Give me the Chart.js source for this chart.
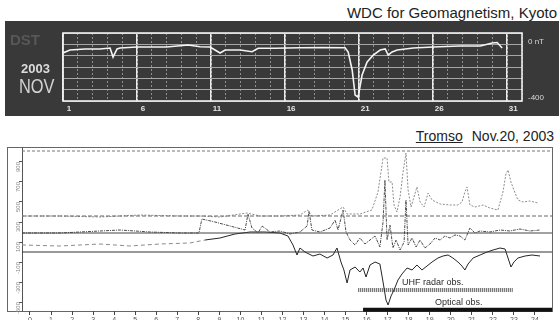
<!DOCTYPE html>
<html>
<head>
<meta charset="utf-8">
<script src="https://cdn.jsdelivr.net/npm/chart.js@4/dist/chart.umd.min.js"></script>
<style>
  body { margin: 0; width: 559px; height: 320px; overflow: hidden; position: relative; background: #fff;
         font-family: Arial, "Liberation Sans", sans-serif; }
  .abs { position: absolute; }
  #kyotoTitle { right: 2px; top: 4px; font-size: 15px; color: #222; white-space: nowrap; }
  #dstPanel { left: 5px; top: 21px; width: 554px; height: 95px; background: #393939; }
  #dstTag { left: 10px; top: 31px; font-size: 15px; font-weight: bold; color: #575757; }
  #yearTag { left: 21px; top: 61px; font-size: 13px; font-weight: bold; color: #dcdcdc; }
  #monthTag { left: 19px; top: 74px; font-size: 21px; color: #d2d2d2; transform: scaleX(0.78); transform-origin: left top; }
  #stationTitle { right: 5px; top: 128px; font-size: 14px; color: #222; white-space: nowrap; }
  #stationTitle u { margin-right: 9px; }
  #magFrame { left: 7px; top: 147px; width: 546px; height: 165px; border: 1px solid #666; box-sizing: border-box; }
  #magPanel { left: 0; top: 141px; width: 559px; height: 179px; }
</style>
</head>
<body>
<div class="abs" id="kyotoTitle">WDC for Geomagnetism, Kyoto</div>
<div class="abs" id="dstPanel"><canvas id="dstChart"></canvas></div>
<div class="abs" id="dstTag">DST</div>
<div class="abs" id="yearTag">2003</div>
<div class="abs" id="monthTag">NOV</div>
<div class="abs" id="stationTitle"><u>Tromso</u>Nov.20, 2003</div>
<div class="abs" id="magFrame"></div>
<div class="abs" id="magPanel"><canvas id="magChart"></canvas></div>

<script>
// ---- Dst, November 2003 (day of month, nT) ----
const dstDays = [1.0, 1.47, 2.5, 3.5, 4.18, 4.38, 4.65, 4.85, 6.0, 6.88, 8.0, 9.45, 10.26, 10.93,
  11.61, 11.95, 12.96, 13.77, 14.18, 15.32, 17.0, 18.5, 20.05, 20.26, 20.53, 20.73, 20.93, 21.2,
  21.54, 21.95, 22.42, 22.76, 22.96, 23.23, 23.57, 24.65, 26.0, 27.82, 29.18, 29.99, 30.32, 30.66];
const dstValues = [-61, -40, -33, -33, -26, -90, -33, -26, -19, -19, -19, -5, -17, -19,
  -61, -40, -40, -52, -28, -28, -24, -23, -24, -54, -181, -358, -372, -217,
  -125, -76, -40, -33, -76, -54, -40, -26, -19, -12, -12, 9, 13, -26];
const dstDayTicks = [1, 6, 11, 16, 21, 26, 31];
const dstLabelValues = [0, -400];
const dstLabelTexts = ['0 nT', '-400'];

// ---- Tromso magnetogram, 20 Nov 2003 (UT hours, stacked nT) ----
const traceAHours = [-0.38, 1.43, 3.33, 5.23, 7.13, 8.08, 9.03, 10.31, 10.93, 11.88, 12.83, 13.21, 13.40,
  14.26, 14.88, 15.07, 15.68, 16.25, 16.54, 16.78, 16.97, 17.06, 17.21, 17.30, 17.44, 17.59, 17.73,
  17.87, 17.97, 18.11, 18.25, 18.39, 18.54, 18.73, 18.92, 19.11, 19.49, 19.96, 20.34, 20.53, 20.67,
  20.77, 20.91, 21.15, 21.53, 21.86, 22.24, 22.48, 22.62, 22.72, 22.86, 23.00, 23.19, 23.43, 23.76, 24.14];
const traceAValues = [360, 360, 350, 370, 360, 360, 350, 390, 360, 360, 370, 420, 360,
  370, 450, 380, 380, 420, 600, 940, 940, 700, 700, 470, 400, 550, 800,
  990, 620, 450, 550, 650, 500, 450, 590, 520, 480, 470, 470, 500, 600,
  650, 470, 450, 470, 440, 420, 600, 780, 820, 700, 620, 520, 500, 510, 490];

const traceBHours = [-0.38, 1.43, 3.33, 4.28, 5.70, 7.13, 8.03, 8.17, 8.79, 9.51, 10.22, 10.36, 10.55,
  10.84, 11.03, 11.41, 11.88, 12.36, 12.83, 13.17, 13.26, 13.40, 13.78, 14.26, 14.50, 14.64, 14.88,
  15.02, 15.21, 15.45, 15.68, 15.92, 16.16, 16.40, 16.63, 16.78, 16.87, 16.97, 17.11, 17.25, 17.40,
  17.59, 17.78, 17.87, 17.97, 18.16, 18.35, 18.54, 18.77, 19.01, 19.25, 19.49, 19.72, 19.96, 20.20,
  20.44, 20.67, 20.91, 21.15, 21.39, 21.86, 22.34, 22.81, 23.29, 23.76, 24.24];
const traceBValues = [190, 190, 210, 220, 200, 190, 190, 330, 300, 260, 220, 380, 240,
  190, 260, 200, 210, 180, 200, 260, 410, 220, 200, 240, 320, 220, 420,
  200, 120, 70, 140, 80, 120, 160, 50, 300, 720, 120, 270, 40, 120,
  20, 100, 520, 70, 140, 50, 120, 40, 80, 140, 120, 160, 140, 170,
  160, 120, 240, 190, 210, 200, 220, 210, 230, 210, 220];

const traceCHours = [-0.38, 1.43, 3.33, 4.75, 6.18, 7.60, 8.32, 9.03, 9.74, 10.46, 11.17, 11.88, 12.26,
  12.50, 12.69, 12.83, 13.07, 13.45, 13.78, 14.12, 14.40, 14.59, 14.78, 14.92, 15.07, 15.21, 15.45,
  15.68, 15.83, 15.97, 16.16, 16.40, 16.63, 16.78, 16.92, 17.02, 17.16, 17.30, 17.49, 17.68, 17.92,
  18.16, 18.39, 18.63, 18.87, 19.11, 19.39, 19.63, 19.87, 20.10, 20.34, 20.53, 20.67, 20.82, 21.06,
  21.39, 21.72, 22.01, 22.34, 22.58, 22.72, 22.86, 23.00, 23.19, 23.53, 23.86, 24.24];
const traceCValues = [70, 60, 80, 60, 80, 90, 120, 140, 180, 200, 200, 190, 160,
  70, -30, 40, 0, -40, -20, -60, -30, 40, -100, -180, -310, -180, -150,
  -200, -160, -250, -130, -100, -120, -300, -480, -530, -440, -380, -280, -220, -160,
  -180, -130, -180, -140, -100, -60, -40, -30, -60, -100, -140, -180, -120, -60,
  -30, 0, 20, 40, 30, -60, -150, -100, -60, -40, -30, -40];

const baseLevels = [1010, 360, 190, 0];
const uhfHours = [15.6, 22.95];
const uhfLevel = -380;
const opticalHours = [15.83, 24.81];
const opticalLevel = -578;
const noteTexts = ['UHF radar obs.', 'Optical obs.'];
const noteHours = [17.68, 19.25];
const noteLevels = [-330, -530];

const hourMin = -0.38, hourMax = 24.81;
const quietUntil = 8.2; // trace C is drawn faint/dashed before this hour

function pts(xs, ys) { return xs.map((x, i) => ({ x: x, y: ys[i] })); }

const framePlugin = {
  id: 'frame',
  afterDraw(chart, args, opts) {
    if (!opts.color) return;
    const a = chart.chartArea, ctx = chart.ctx;
    ctx.save();
    ctx.strokeStyle = opts.color;
    ctx.lineWidth = opts.width;
    ctx.strokeRect(a.left, a.top, a.right - a.left, a.bottom - a.top);
    ctx.restore();
  }
};

const notesPlugin = {
  id: 'notes',
  afterDatasetsDraw(chart, args, opts) {
    if (!opts.texts) return;
    const ctx = chart.ctx, xs = chart.scales.x, ys = chart.scales.y;
    ctx.save();
    ctx.fillStyle = '#2a2a2a';
    ctx.font = '9px Arial, "Liberation Sans", sans-serif';
    ctx.textBaseline = 'alphabetic';
    opts.texts.forEach((t, i) => {
      ctx.fillText(t, xs.getPixelForValue(opts.hours[i]), ys.getPixelForValue(opts.levels[i]));
    });
    ctx.restore();
  }
};

Chart.register(framePlugin, notesPlugin);

new Chart(document.getElementById('dstChart'), {
  type: 'line',
  data: {
    datasets: [{
      data: pts(dstDays, dstValues),
      borderColor: '#f4f4f4',
      borderWidth: 1.6,
      pointRadius: 0,
      tension: 0
    }]
  },
  options: {
    responsive: true,
    maintainAspectRatio: false,
    animation: false,
    layout: { padding: { top: 12, left: 0, right: 0, bottom: 0 } },
    plugins: {
      legend: { display: false },
      tooltip: { enabled: false },
      frame: { color: '#f0f0f0', width: 1.6 }
    },
    scales: {
      x: {
        type: 'linear', min: 1, max: 32, position: 'bottom',
        afterBuildTicks: s => { s.ticks = dstDayTicks.map(v => ({ value: v })); },
        ticks: { color: '#e6e6e6', font: { size: 8, weight: 'bold' }, labelOffset: 6, padding: 3, maxRotation: 0 },
        grid: { color: 'rgba(245,245,245,0.95)', lineWidth: 1.8, drawTicks: false },
        border: { display: false },
        afterFit: s => { s.height = 15; }
      },
      xDay: {
        type: 'linear', min: 1, max: 32, position: 'bottom',
        ticks: { display: false, stepSize: 1 },
        grid: { color: '#8e8e8e', lineWidth: 1, drawTicks: false },
        border: { display: false, dash: [2, 2] },
        afterFit: s => { s.height = 0; }
      },
      y: {
        min: -400, max: 80, position: 'left',
        ticks: { display: false, stepSize: 80 },
        grid: { color: '#a6a6a6', lineWidth: 1, drawTicks: false },
        border: { display: false },
        afterFit: s => { s.width = 58; }
      },
      yLabel: {
        min: -400, max: 80, position: 'right',
        afterBuildTicks: s => { s.ticks = dstLabelValues.map(v => ({ value: v })); },
        ticks: {
          callback: v => dstLabelTexts[dstLabelValues.indexOf(v)],
          color: '#d8d8d8', font: { size: 8 }, padding: 6, labelOffset: -3
        },
        grid: { display: false, drawTicks: false },
        border: { display: false },
        afterFit: s => { s.width = 37; }
      }
    }
  }
});

const levelStyles = [
  { color: '#777', width: 1, dash: [3, 2] },
  { color: '#666', width: 1, dash: [4, 2] },
  { color: '#444', width: 1.1, dash: [] },
  { color: '#333', width: 1.2, dash: [] }
];

const magSets = baseLevels.map((lv, i) => ({
  data: pts([hourMin, hourMax], [lv, lv]),
  borderColor: levelStyles[i].color,
  borderWidth: levelStyles[i].width,
  borderDash: levelStyles[i].dash,
  pointRadius: 0
}));

magSets.push(
  { data: pts(traceAHours, traceAValues), borderColor: '#8c8c8c', borderWidth: 1, borderDash: [2, 1.5], pointRadius: 0 },
  { data: pts(traceBHours, traceBValues), borderColor: '#4a4a4a', borderWidth: 1, borderDash: [3, 1, 1, 1], pointRadius: 0 },
  {
    data: pts(traceCHours, traceCValues), borderColor: '#262626', borderWidth: 1, pointRadius: 0,
    segment: {
      borderColor: c => c.p0.parsed.x < quietUntil ? '#8a8a8a' : undefined,
      borderDash: c => c.p0.parsed.x < quietUntil ? [4, 3] : undefined
    }
  },
  { data: pts(uhfHours, [uhfLevel, uhfLevel]), borderColor: '#555', borderWidth: 4, borderDash: [1, 1], pointRadius: 0 },
  { data: pts(opticalHours, [opticalLevel, opticalLevel]), borderColor: '#111', borderWidth: 4, pointRadius: 0, clip: false }
);

new Chart(document.getElementById('magChart'), {
  type: 'line',
  data: { datasets: magSets },
  options: {
    responsive: true,
    maintainAspectRatio: false,
    animation: false,
    layout: { padding: { top: 6, left: 0, right: 7, bottom: 0 } },
    plugins: {
      legend: { display: false },
      tooltip: { enabled: false },
      notes: { texts: noteTexts, hours: noteHours, levels: noteLevels }
    },
    scales: {
      x: {
        type: 'linear', min: hourMin, max: hourMax, position: 'bottom',
        ticks: { stepSize: 1, includeBounds: false, color: '#555', font: { size: 7 }, padding: 1, maxRotation: 0, autoSkip: false },
        grid: { drawOnChartArea: false, tickLength: 4, tickColor: '#444' },
        border: { display: false },
        afterFit: s => { s.height = 9; }
      },
      y: {
        min: -590, max: 1050, position: 'left',
        ticks: { stepSize: 100, includeBounds: false, color: '#888', font: { size: 6 }, minRotation: 90, maxRotation: 90, padding: 1 },
        grid: { drawOnChartArea: false, tickLength: 3, tickColor: '#555' },
        border: { color: '#555' },
        afterFit: s => { s.width = 22; }
      }
    }
  }
});
</script>
</body>
</html>
